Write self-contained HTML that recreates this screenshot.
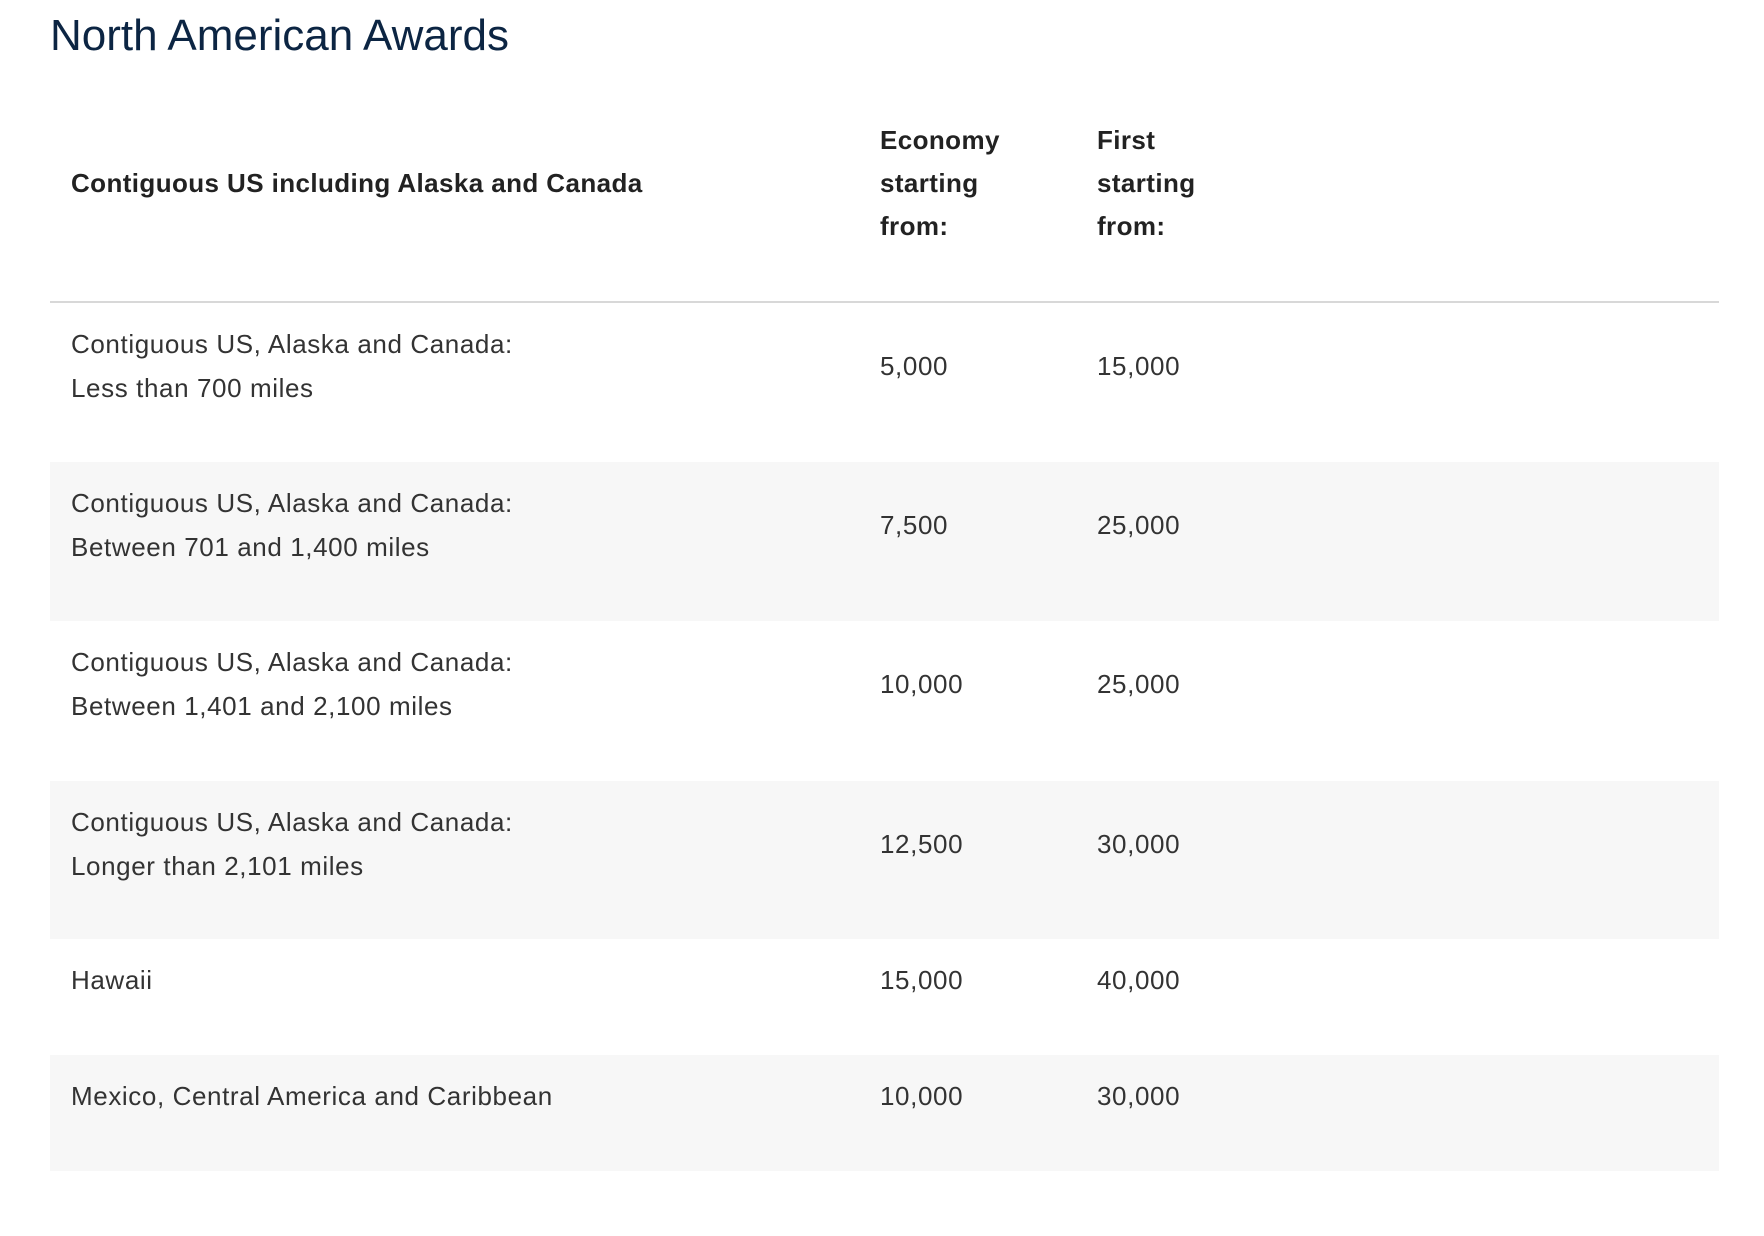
<!DOCTYPE html>
<html><head><meta charset="utf-8"><style>
body{margin:0;width:1764px;height:1236px;background:#fff;position:relative;overflow:hidden;font-family:"Liberation Sans",sans-serif}
.a{position:absolute;white-space:nowrap}
h1{position:absolute;left:50px;top:11px;margin:0;font-weight:normal;font-size:44px;color:#0c2543}
.h{font-weight:bold;font-size:26px;letter-spacing:0.4px;color:#222;line-height:43px}
.c{font-size:26px;letter-spacing:0.6px;color:#333;line-height:44px}
.row{position:absolute;left:50px;width:1669px}
.g{background:#f7f7f7}
</style></head><body>
<h1>North American Awards</h1>
<div class="a h" style="left:71px;top:162px">Contiguous US including Alaska and Canada</div>
<div class="a h" style="left:880px;top:119px">Economy<br>starting<br>from:</div>
<div class="a h" style="left:1097px;top:119px">First<br>starting<br>from:</div>
<div class="a" style="left:50px;top:301px;width:1669px;height:2px;background:#d8d8d8"></div>
<div id="rows"></div>
<script>
const regions=["Contiguous US, Alaska and Canada:<br>Less than 700 miles","Contiguous US, Alaska and Canada:<br>Between 701 and 1,400 miles","Contiguous US, Alaska and Canada:<br>Between 1,401 and 2,100 miles","Contiguous US, Alaska and Canada:<br>Longer than 2,101 miles","Hawaii","Mexico, Central America and Caribbean"];
const economy=["5,000","7,500","10,000","12,500","15,000","10,000"];
const first=["15,000","25,000","25,000","30,000","40,000","30,000"];
const tops=[303,462,621,781,939,1055,1171];
const root=document.getElementById('rows');
regions.forEach((r,i)=>{
  const row=document.createElement('div');
  
  
  row.className='row'+(i%2?' g':'');
  const t=tops[i],h=tops[i+1]-t;
  row.style.top=t+'px';row.style.height=h+'px';
  const two=r.includes('<br>');
  const mid=two?63:41;
  const a=document.createElement('div');
  
  
  a.className='a c';a.style.left='21px';a.style.top='19px';a.innerHTML=r;
  const b=document.createElement('div');
  
  
  b.className='a c';b.style.left='830px';b.style.top=(mid-22)+'px';b.textContent=economy[i];
  const c=document.createElement('div');
  
  
  c.className='a c';c.style.left='1047px';c.style.top=(mid-22)+'px';c.textContent=first[i];
  row.append(a,b,c);root.appendChild(row);
});
</script>
</body></html>
